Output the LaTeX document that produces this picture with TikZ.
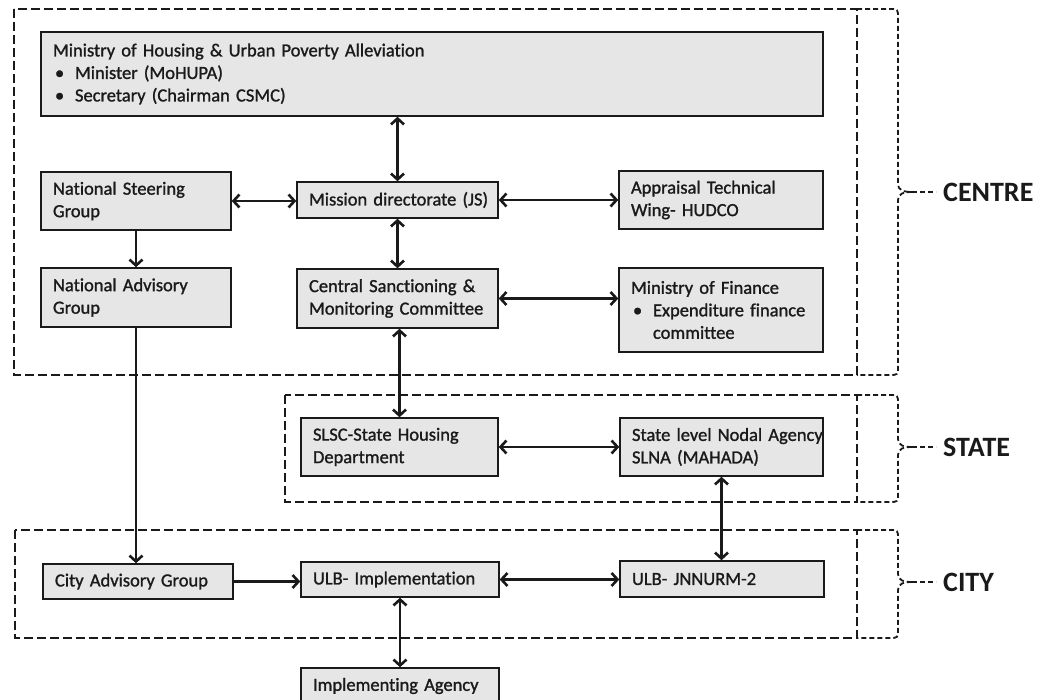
\documentclass[tikz,border=0pt]{standalone}
\usepackage{fontspec}
\setmainfont{Carlito}[Ligatures=NoCommon]
\newfontfamily\boxfont{Carlito}[FakeBold=1.2, Ligatures=NoCommon]
\usetikzlibrary{arrows.meta}
\definecolor{boxfill}{HTML}{E6E6E6}
\definecolor{ink}{HTML}{1A1A1A}

% bullet with hanging indent used inside the boxes
\newcommand\bul{\makebox[22pt][l]{\hspace{2pt}•}}

\begin{document}
\begin{tikzpicture}[x=1pt,y=-1pt,
  font=\boxfont\fontsize{18.5}{22.5}\selectfont, text=ink,
  box/.style={draw=ink, line width=1.4pt, fill=boxfill, inner xsep=12pt, inner ysep=0pt, align=left},
  zone/.style={draw=ink, line width=2.8pt, dash pattern=on 9pt off 4pt},
  brace/.style={draw=ink, line width=1.8pt, dash pattern=on 5pt off 3pt},
  link/.style={draw=ink, line width=2.6pt, -{Straight Barb[length=6pt,width=13pt]}},
  dlink/.style={draw=ink, line width=2.6pt, {Straight Barb[length=6pt,width=13pt]}-{Straight Barb[length=6pt,width=13pt]}},
  level/.style={font=\fontsize{28}{32}\selectfont\bfseries, anchor=west, inner xsep=7pt, inner ysep=0pt}
]
\useasboundingbox (0,0) rectangle (1055,700);
\clip (0,0) rectangle (1055,700);

% ---- level frames ----
\draw[zone] (14,9) rectangle (857,375);
\draw[zone] (285,395) rectangle (857,502);
\draw[zone] (15,530) rectangle (857,638);

% ---- boxes: centre ----
\node[box, text width=758pt, minimum height=84pt] (min) at (432,74)
  {Ministry of Housing \& Urban Poverty Alleviation\\
   \bul Minister (MoHUPA)\\
   \bul Secretary (Chairman CSMC)};
\node[box, text width=166pt, minimum height=58pt] (nsg) at (136,201)
  {National Steering\\ Group};
\node[box, text width=177pt, minimum height=36pt] (mis) at (397.5,200)
  {\mbox{Mission directorate (JS)}};
\node[box, text width=180pt, minimum height=58pt] (atw) at (721,200)
  {Appraisal Technical\\ Wing- HUDCO};
\node[box, text width=166pt, minimum height=59pt] (nag) at (136,297.5)
  {National Advisory\\ Group};
\node[box, text width=177pt, minimum height=59pt] (csmc) at (397.5,298.5)
  {\mbox{Central Sanctioning \&}\\ \mbox{Monitoring Committee}};
\node[box, text width=180pt, minimum height=84pt] (mof) at (721,310)
  {Ministry of Finance\\
   \mbox{\bul Expenditure finance}\\
   \hspace*{22pt}committee};

% ---- boxes: state ----
\node[box, text width=173pt, minimum height=58pt] (slsc) at (399.5,447)
  {\mbox{SLSC-State Housing}\\ Department};
\node[box, text width=179pt, minimum height=58pt] (slna) at (721.5,447)
  {\mbox{State level Nodal Agency}\\ SLNA (MAHADA)};

% ---- boxes: city ----
\node[box, text width=166pt, minimum height=35pt] (cag) at (138,581.5)
  {\mbox{City Advisory Group}};
\node[box, text width=174pt, minimum height=35pt] (ulb) at (400,579.5)
  {\mbox{ULB- Implementation}};
\node[box, text width=180pt, minimum height=36pt] (jnn) at (722,579)
  {\mbox{ULB- JNNURM-2}};
\node[box, text width=174pt, minimum height=36pt] (ia) at (400,686)
  {\mbox{Implementing Agency}};

% ---- connectors ----
\draw[dlink] (mis.north) -- (mis.north |- min.south);
\draw[dlink] (nsg.east) -- (nsg.east -| mis.west);
\draw[dlink] (mis.east) -- (mis.east -| atw.west);
\draw[link]  (nsg.south) -- (nsg.south |- nag.north);
\draw[dlink] (mis.south) -- (mis.south |- csmc.north);
\draw[dlink] (csmc.east) -- (csmc.east -| mof.west);
\draw[dlink] (slsc.north) -- (slsc.north |- csmc.south);
\draw[dlink] (slsc.east) -- (slsc.east -| slna.west);
\draw[dlink] (slna.south) -- (slna.south |- jnn.north);
\draw[link]  (nag.south) -- (nag.south |- cag.north);
\draw[link]  (cag.east) -- (cag.east -| ulb.west);
\draw[dlink] (ulb.east) -- (ulb.east -| jnn.west);
\draw[dlink] (ulb.south) -- (ulb.south |- ia.north);

% ---- side braces with level names ----
\newcommand\levelbrace[5]{% top, middle, bottom, node name, label
  \draw[brace] (857,#1) -- (889,#1) .. controls (898,#1) .. (898,#1+9)
    -- (898,#2-8) .. controls (898,#2-2) and (903,#2) .. (912,#2);
  \draw[brace] (912,#2) .. controls (903,#2) and (898,#2+2) .. (898,#2+8)
    -- (898,#3-9) .. controls (898,#3) .. (889,#3) -- (857,#3);
  \coordinate (#4tip) at (912,#2);
  \node[level] (#4) at (936,#2) {#5};
  \draw[brace] (#4tip) -- (#4.west);
}
\levelbrace{9}{192}{375}{centre}{CENTRE}
\levelbrace{395}{447}{502}{state}{STATE}
\levelbrace{530}{582}{638}{city}{CITY}

\end{tikzpicture}
\end{document}
